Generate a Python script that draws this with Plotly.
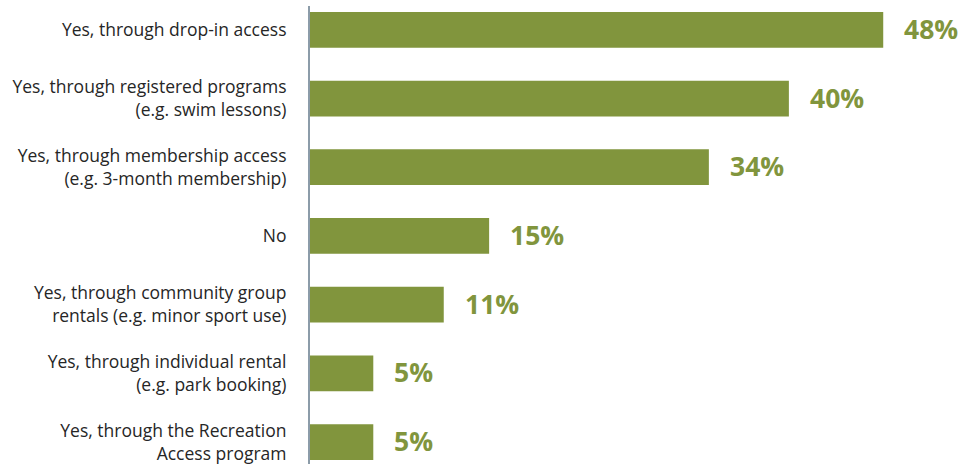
import plotly.graph_objects as go

categories = [
    "Yes, through drop-in access",
    "Yes, through registered programs<br>(e.g. swim lessons)",
    "Yes, through membership access<br>(e.g. 3-month membership)",
    "No",
    "Yes, through community group<br>rentals (e.g. minor sport use)",
    "Yes, through individual rental<br>(e.g. park booking)",
    "Yes, through the Recreation<br>Access program",
]
values = [48.0, 40.1, 33.4, 15.0, 11.2, 5.3, 5.3]
labels = ["48%", "40%", "34%", "15%", "11%", "5%", "5%"]

GREEN = "#81953D"

fig = go.Figure()
fig.add_trace(go.Bar(
    x=values, y=categories, orientation="h",
    marker=dict(color=GREEN, line=dict(width=0)),
    width=0.52, hoverinfo="skip",
))

for v, c, t in zip(values, categories, labels):
    fig.add_annotation(
        x=v, y=c, text=t, showarrow=False, xanchor="left", yanchor="middle",
        xshift=19, yshift=1,
        font=dict(family="Open Sans", size=26.5, color=GREEN, weight="bold"),
    )

fig.update_layout(
    width=974, height=464,
    margin=dict(l=310, r=43, t=6, b=0, autoexpand=False),
    plot_bgcolor="white", paper_bgcolor="white",
    showlegend=False,
    font=dict(family="Open Sans", size=17.5, color="#262626"),
    xaxis=dict(range=[0, 52], visible=False, fixedrange=True, automargin=False),
    yaxis=dict(
        range=[6.32, -0.347], showline=True, linecolor="#8C9CA9", linewidth=2,
        ticks="", showgrid=False, zeroline=False, ticklabelstandoff=18,
        automargin=False,
        tickfont=dict(family="Open Sans", size=17.5, color="#262626"),
    ),
)

fig.write_html(
    "out.html",
    config={"displayModeBar": False},
    post_script="document.body.style.margin='0';document.body.style.overflow='hidden';",
)
